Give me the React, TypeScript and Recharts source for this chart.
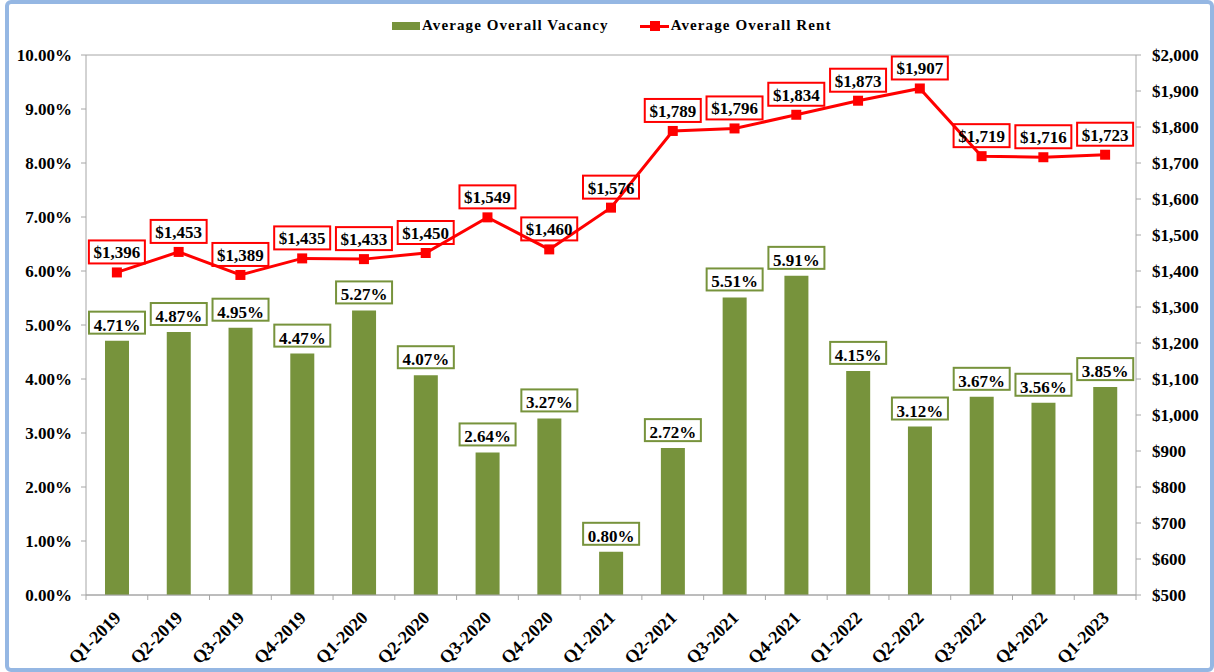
import { ComposedChart, Bar, Line, XAxis, YAxis, CartesianGrid, LabelList } from 'recharts'

const quarters = [
  'Q1-2019', 'Q2-2019', 'Q3-2019', 'Q4-2019',
  'Q1-2020', 'Q2-2020', 'Q3-2020', 'Q4-2020',
  'Q1-2021', 'Q2-2021', 'Q3-2021', 'Q4-2021',
  'Q1-2022', 'Q2-2022', 'Q3-2022', 'Q4-2022',
  'Q1-2023',
]
const vacancy = [4.71, 4.87, 4.95, 4.47, 5.27, 4.07, 2.64, 3.27, 0.8, 2.72, 5.51, 5.91, 4.15, 3.12, 3.67, 3.56, 3.85]
const rent = [1396, 1453, 1389, 1435, 1433, 1450, 1549, 1460, 1576, 1789, 1796, 1834, 1873, 1907, 1719, 1716, 1723]
const vacancyTicks = [0, 1, 2, 3, 4, 5, 6, 7, 8, 9, 10]
const rentTicks = [500, 600, 700, 800, 900, 1000, 1100, 1200, 1300, 1400, 1500, 1600, 1700, 1800, 1900, 2000]

const data = quarters.map((q, i) => ({ quarter: q, vacancy: vacancy[i], rent: rent[i] }))

const FONT = '"Liberation Serif", "Times New Roman", serif'
const GREEN = '#77933c'
const RED = '#ff0000'
const AXIS = '#a6a6a6'

const W = 1214
const H = 672
const LEFT_W = 86
const RIGHT_W = 78
const BAND = (W - LEFT_W - RIGHT_W) / quarters.length

const fmtPct = (v: number) => `${v.toFixed(2)}%`
const fmtUsd = (v: number) => `$${v.toLocaleString('en-US')}`

function QuarterTick({ x, y, payload, index }: any) {
  return (
    <g>
      {index === 0 && <line x1={x - BAND / 2} y1={y} x2={x - BAND / 2} y2={y + 5} stroke={AXIS} />}
      <line x1={x + BAND / 2} y1={y} x2={x + BAND / 2} y2={y + 5} stroke={AXIS} />
      <text
        transform={`translate(${x + 5},${y + 24}) rotate(-45)`}
        textAnchor="end"
        fontFamily={FONT}
        fontWeight="bold"
        fontSize={18}
        fill="#000"
      >
        {payload.value}
      </text>
    </g>
  )
}

function VacancyLabel({ x, y, width, value }: any) {
  const cx = x + width / 2
  const bottom = y - 7
  return (
    <g>
      <rect x={cx - 28} y={bottom - 22} width={56} height={22} fill="none" stroke={GREEN} strokeWidth={2} />
      <text x={cx} y={bottom - 3} textAnchor="middle" fontFamily={FONT} fontWeight="bold" fontSize={17} fill="#000">
        {fmtPct(value)}
      </text>
    </g>
  )
}

function RentLabel({ x, y, value }: any) {
  const bottom = y - 9
  return (
    <g>
      <rect x={x - 28} y={bottom - 23} width={56} height={23} fill="none" stroke={RED} strokeWidth={2} />
      <text x={x} y={bottom - 5} textAnchor="middle" fontFamily={FONT} fontWeight="bold" fontSize={17} fill="#000">
        {fmtUsd(value)}
      </text>
    </g>
  )
}

function SquareDot({ cx, cy }: any) {
  return <rect x={cx - 5} y={cy - 5} width={10} height={10} fill={RED} />
}

export default function App() {
  return (
    <div style={{ position: 'relative', width: W, height: H, fontFamily: FONT }}>
      <style>{'body{margin:0}'}</style>
      <div
        style={{
          position: 'absolute',
          left: 5,
          top: 0,
          width: W - 5,
          height: H,
          boxSizing: 'border-box',
          border: '4px solid #95b7e3',
          borderRadius: 6,
        }}
      />
      {/* legend */}
      <div
        style={{
          position: 'absolute',
          top: 17,
          left: 392,
          display: 'flex',
          alignItems: 'center',
          fontWeight: 'bold',
          fontSize: 15,
          letterSpacing: 1.1,
          color: '#000',
        }}
      >
        <span style={{ display: 'inline-block', width: 28, height: 8, background: GREEN, marginRight: 2 }} />
        <span>Average Overall Vacancy</span>
        <span style={{ position: 'relative', display: 'inline-block', width: 29, height: 10, marginLeft: 31, marginRight: 2 }}>
          <span style={{ position: 'absolute', left: 0, top: 4, width: 29, height: 3, background: RED }} />
          <span style={{ position: 'absolute', left: 10, top: 0, width: 10, height: 10, background: RED }} />
        </span>
        <span>Average Overall Rent</span>
      </div>
      <div style={{ position: 'absolute', left: 0, top: 0 }}>
        <ComposedChart width={W} height={H} data={data} margin={{ top: 55, right: 0, bottom: 7, left: 0 }}>
          <CartesianGrid vertical={false} stroke={AXIS} />
          <XAxis
            dataKey="quarter"
            interval={0}
            height={70}
            tickLine={false}
            tickSize={0}
            tickMargin={0}
            axisLine={{ stroke: AXIS }}
            tick={<QuarterTick />}
          />
          <YAxis
            yAxisId="left"
            width={LEFT_W}
            domain={[0, 10]}
            ticks={vacancyTicks}
            tickFormatter={fmtPct}
            tickSize={5}
            tickMargin={9}
            axisLine={{ stroke: AXIS }}
            tickLine={{ stroke: AXIS }}
            tick={{ fontFamily: FONT, fontWeight: 'bold', fontSize: 17, fill: '#000' }}
          />
          <YAxis
            yAxisId="right"
            orientation="right"
            width={RIGHT_W}
            domain={[500, 2000]}
            ticks={rentTicks}
            tickFormatter={fmtUsd}
            tickSize={5}
            tickMargin={11}
            axisLine={{ stroke: AXIS }}
            tickLine={{ stroke: AXIS }}
            tick={{ fontFamily: FONT, fontWeight: 'bold', fontSize: 17, fill: '#000' }}
          />
          <Bar yAxisId="left" dataKey="vacancy" fill={GREEN} barSize={24} isAnimationActive={false}>
            <LabelList dataKey="vacancy" content={<VacancyLabel />} />
          </Bar>
          <Line
            yAxisId="right"
            dataKey="rent"
            stroke={RED}
            strokeWidth={3}
            dot={<SquareDot />}
            activeDot={false}
            isAnimationActive={false}
          >
            <LabelList dataKey="rent" content={<RentLabel />} />
          </Line>
        </ComposedChart>
      </div>
    </div>
  )
}
